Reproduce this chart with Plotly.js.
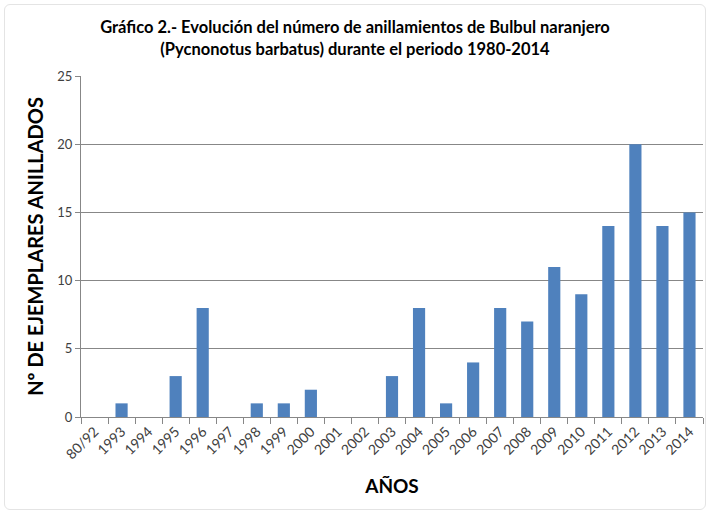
<!DOCTYPE html>
<html>
<head>
<meta charset="utf-8">
<script src="https://cdn.plot.ly/plotly-3.0.1.min.js"></script>
<style>
html,body{margin:0;padding:0;background:#fff;}
#wrap{position:absolute;left:0;top:0;width:710px;height:514px;}
#frame{position:absolute;left:4px;top:4px;width:700px;height:504px;border:1px solid #e4e4e4;border-radius:6px;pointer-events:none;}
#chart{width:710px;height:514px;}
</style>
</head>
<body>
<div id="wrap"><div id="chart"></div><div id="frame"></div></div>
<script>
const categories = ["80/92","1993","1994","1995","1996","1997","1998","1999","2000","2001","2002","2003","2004","2005","2006","2007","2008","2009","2010","2011","2012","2013","2014"];
const values = [0,1,0,3,8,0,1,1,2,0,0,3,8,1,4,8,7,11,9,14,20,14,15];
const yTicks = [0,5,10,15,20,25];

const font = "Lato, 'Open Sans', 'Liberation Sans', sans-serif";

Plotly.newPlot('chart', [{
  type: 'bar',
  x: categories,
  y: values,
  marker: {color: '#4F81BD'},
  hoverinfo: 'x+y'
}], {
  width: 710, height: 514,
  margin: {l: 81, r: 7, t: 76, b: 97},
  paper_bgcolor: '#fff', plot_bgcolor: '#fff',
  bargap: 0.55,
  showlegend: false,
  title: {
    text: '<b>Gráfico 2.- Evolución del número de anillamientos de Bulbul naranjero<br>(Pycnonotus barbatus) durante el periodo 1980-2014</b>',
    font: {family: font, size: 16.5, color: '#000'},
    x: 0.5, xanchor: 'center', y: 0.935, yanchor: 'middle'
  },
  xaxis: {
    type: 'category',
    tickangle: -45,
    tickson: 'boundaries',
    ticks: 'outside', ticklen: 6, tickcolor: '#878787',
    showline: true, linecolor: '#878787', linewidth: 1,
    showgrid: false,
    tickfont: {family: font, size: 14, color: '#404040'},
    title: {text: '<b>AÑOS</b>', font: {family: font, size: 19, color: '#000'}, standoff: 18}
  },
  yaxis: {
    range: [0, 25],
    tickvals: yTicks,
    ticks: 'outside', ticklen: 5, tickcolor: '#878787',
    showline: true, linecolor: '#878787', linewidth: 1,
    showgrid: true, gridcolor: '#878787', gridwidth: 1,
    zeroline: false,
    tickfont: {family: font, size: 13, color: '#404040'},
    title: {text: '<b>Nº DE EJEMPLARES ANILLADOS</b>', font: {family: font, size: 20, color: '#000'}, standoff: 8}
  }
}, {displayModeBar: false, staticPlot: true});
</script>
</body>
</html>
